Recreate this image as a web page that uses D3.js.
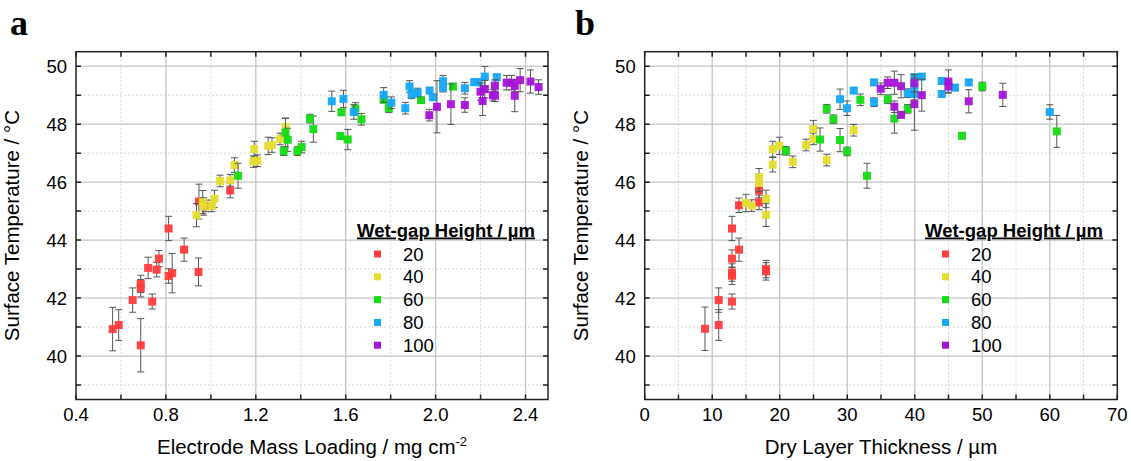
<!DOCTYPE html>
<html>
<head>
<meta charset="utf-8">
<script src="https://cdn.jsdelivr.net/npm/d3@7"></script>
<style>
  body { margin: 0; background: #fff; }
  text { font-family: "Liberation Sans", Arial, sans-serif; fill: #000; }
</style>
</head>
<body>
<div id="chart"></div>
<script>
// legend categories
const wetGaps = ["20", "40", "60", "80", "100"]
const colors = ["#ff3b3b", "#e6dd2e", "#12dc12", "#14a8f5", "#a414d6"]

// panel a: [mass loading mg/cm2, temperature °C, error]
const red20A = [[0.563,40.93,0.75],[0.59,41.07,0.53],[0.688,40.37,0.92],[0.652,41.93,0.42],[0.688,42.34,0.3],[0.688,42.49,0.3],[0.739,41.88,0.26],[0.721,43.04,0.37],[0.759,42.98,0.25],[0.769,43.36,0.28],[0.812,44.4,0.42],[0.812,42.76,0.25],[0.828,42.86,0.68],[0.881,43.67,0.4],[0.945,42.9,0.48],[0.947,45.33,0.6],[0.978,45.18,0.2],[1.086,45.71,0.25]]
const yellow40A = [[0.936,44.86,0.4],[0.964,45.31,0.4],[0.968,45.16,0.3],[1.004,45.18,0.2],[1.016,45.42,0.3],[1.041,46.04,0.2],[1.086,46.06,0.2],[1.105,46.59,0.25],[1.193,47.14,0.27],[1.19,46.71,0.2],[1.207,46.74,0.2],[1.255,47.25,0.3],[1.272,47.28,0.25],[1.308,47.49,0.2],[1.332,47.9,0.3]]
const green60A = [[1.121,46.22,0.43],[1.324,47.07,0.15],[1.332,47.71,0.5],[1.342,47.46,0.4],[1.385,47.07,0.15],[1.404,47.21,0.2],[1.441,48.19,0.15],[1.456,47.83,0.45],[1.576,47.59,0.1],[1.609,47.47,0.35],[1.581,48.41,0.1],[1.643,48.54,0.2],[1.67,48.17,0.2],[1.769,48.84,0.1],[1.792,48.55,0.15],[1.935,48.83,0.1],[2.077,49.3,0.1]]
const blue80A = [[1.538,48.79,0.35],[1.59,48.87,0.3],[1.636,48.42,0.25],[1.769,49.01,0.25],[1.803,48.74,0.2],[1.865,48.55,0.2],[1.884,49.3,0.2],[1.893,49.03,0.15],[1.92,49.09,0.15],[1.973,49.16,0.1],[1.988,48.93,0.1],[2.033,49.48,0.2],[2.033,49.26,0.15],[2.13,49.24,0.2],[2.172,49.45,0.1],[2.192,49.45,0.1],[2.219,49.64,0.35],[2.272,49.62,0.1]]
const purple100A = [[1.972,48.31,0.2],[2.006,48.6,0.9],[2.068,48.69,0.7],[2.13,48.66,0.25],[2.2,49.12,0.3],[2.209,48.8,0.5],[2.219,49.21,0.3],[2.255,49.0,0.2],[2.264,49.33,0.2],[2.264,48.98,0.2],[2.316,49.43,0.25],[2.338,49.43,0.25],[2.352,49.32,0.2],[2.352,48.98,0.55],[2.376,49.52,0.4],[2.422,49.47,0.4],[2.458,49.28,0.25]]

// panel b: [dry layer thickness µm, temperature °C, error]
const red20B = [[8.93,40.94,0.75],[10.96,41.07,0.53],[10.96,41.93,0.42],[12.93,41.88,0.26],[12.93,42.77,0.3],[12.93,42.88,0.3],[12.93,43.36,0.3],[12.93,44.4,0.42],[13.97,43.67,0.4],[13.97,45.2,0.25],[16.93,45.3,0.25],[16.93,45.71,0.25],[17.97,42.92,0.3],[17.97,43.0,0.3]]
const yellow40B = [[15.0,45.28,0.3],[15.85,45.19,0.2],[16.93,46.17,0.3],[16.93,45.97,0.3],[17.97,45.42,0.3],[17.97,44.87,0.4],[18.96,47.14,0.27],[18.96,46.6,0.25],[19.94,47.25,0.3],[21.93,46.7,0.2],[23.9,47.28,0.2],[24.98,47.83,0.3],[24.98,47.49,0.2],[26.96,46.76,0.2],[30.96,47.79,0.2]]
const green60B = [[20.93,47.08,0.15],[25.97,47.47,0.4],[26.96,48.53,0.15],[27.95,48.17,0.15],[28.93,47.45,0.4],[29.97,47.06,0.15],[31.94,48.84,0.2],[32.93,46.22,0.43],[36.0,48.86,0.15],[36.98,48.19,0.5],[38.96,48.53,0.15],[47.0,47.6,0.1],[50.0,49.3,0.15],[61.04,47.75,0.55]]
const blue80B = [[28.93,48.86,0.35],[29.97,48.55,0.25],[30.96,49.16,0.1],[33.97,49.44,0.1],[33.97,48.76,0.15],[38.96,49.07,0.15],[39.94,49.62,0.1],[41.04,49.64,0.1],[39.94,49.32,0.2],[39.94,49.04,0.2],[44.0,49.49,0.1],[44.0,49.04,0.1],[45.97,49.26,0.1],[48.0,49.44,0.1],[60.0,48.42,0.25]]
const purple100B = [[34.96,49.22,0.2],[36.0,49.43,0.2],[36.98,49.43,0.4],[37.97,49.31,0.4],[36.98,48.6,0.2],[37.97,48.32,0.1],[39.94,48.69,0.9],[41.04,49.0,0.55],[39.94,49.41,0.3],[44.98,49.47,0.4],[44.98,49.3,0.2],[48.0,48.79,0.4],[53.04,49.01,0.4]]

// ticks
const yMajor = [40, 42, 44, 46, 48, 50]
const yMinor = [39, 41, 43, 45, 47, 49]
const xMajorA = [0.4, 0.8, 1.2, 1.6, 2.0, 2.4]
const xMinorA = [0.6, 1.0, 1.4, 1.8, 2.2]
const xMajorB = [0, 10, 20, 30, 40, 50, 60, 70]
const xMinorB = [5, 15, 25, 35, 45, 55, 65]

const svg = d3.select("#chart").append("svg")
    .attr("width", 1131)
    .attr("height", 461)

function panel(opts) {
    const x = d3.scaleLinear().domain(opts.xDomain).range([opts.left, opts.right])
    const y = d3.scaleLinear().domain([38.5, 50.5]).range([399.5, 51.7])
    const g = svg.append("g")
    const top = y.range()[1], bottom = y.range()[0]

    // grid
    g.selectAll(".gxm").data(opts.xMinor).enter().append("line")
        .attr("x1", d => x(d)).attr("x2", d => x(d)).attr("y1", top).attr("y2", bottom)
        .attr("stroke", "#d6d6d6").attr("stroke-dasharray", "2,2").attr("stroke-width", 1)
    g.selectAll(".gym").data(yMinor).enter().append("line")
        .attr("y1", d => y(d)).attr("y2", d => y(d)).attr("x1", opts.left).attr("x2", opts.right)
        .attr("stroke", "#d6d6d6").attr("stroke-dasharray", "2,2").attr("stroke-width", 1)
    g.selectAll(".gx").data(opts.xMajor.filter(d => x(d) > opts.left + 1 && x(d) < opts.right - 1)).enter().append("line")
        .attr("x1", d => x(d)).attr("x2", d => x(d)).attr("y1", top).attr("y2", bottom)
        .attr("stroke", "#c4c4c4").attr("stroke-width", 1.3)
    g.selectAll(".gy").data(yMajor).enter().append("line")
        .attr("y1", d => y(d)).attr("y2", d => y(d)).attr("x1", opts.left).attr("x2", opts.right)
        .attr("stroke", "#c4c4c4").attr("stroke-width", 1.3)

    // legend
    const lg = g.append("g")
    lg.append("text")
        .attr("x", opts.legX).attr("y", 236.5)
        .attr("font-size", 18).attr("font-weight", "bold")
        .attr("text-decoration", "underline")
        .attr("textLength", 178).attr("lengthAdjust", "spacingAndGlyphs")
        .text("Wet-gap Height / µm")
    wetGaps.forEach((w, i) => {
        const cy = 254 + i * 22.8
        lg.append("rect").attr("x", opts.legX + 17).attr("y", cy - 3.5)
            .attr("width", 7).attr("height", 7).attr("fill", colors[i])
        lg.append("text").attr("x", opts.legX + 46).attr("y", cy + 6.5)
            .attr("font-size", 18.5).text(w)
    })

    // series
    opts.series.forEach((s, i) => {
        const sg = g.append("g")
        const eb = sg.selectAll(".eb").data(s).enter().append("g")
            .attr("stroke", "#555").attr("stroke-width", 1)
        eb.append("line").attr("x1", d => x(d[0])).attr("x2", d => x(d[0]))
            .attr("y1", d => y(d[1] - d[2])).attr("y2", d => y(d[1] + d[2]))
        eb.append("line").attr("x1", d => x(d[0]) - 3.5).attr("x2", d => x(d[0]) + 3.5)
            .attr("y1", d => y(d[1] - d[2])).attr("y2", d => y(d[1] - d[2]))
        eb.append("line").attr("x1", d => x(d[0]) - 3.5).attr("x2", d => x(d[0]) + 3.5)
            .attr("y1", d => y(d[1] + d[2])).attr("y2", d => y(d[1] + d[2]))
        sg.selectAll("rect").data(s).enter().append("rect")
            .attr("x", d => x(d[0]) - 4).attr("y", d => y(d[1]) - 4)
            .attr("width", 8).attr("height", 8)
            .attr("fill", colors[i]).attr("fill-opacity", 0.95)
    })

    // frame and ticks (inward)
    g.append("rect").attr("x", opts.left).attr("y", top)
        .attr("width", opts.right - opts.left).attr("height", bottom - top)
        .attr("fill", "none").attr("stroke", "#222").attr("stroke-width", 1.5)
    const xt = opts.xMajor.concat(opts.xMinor)
    const yt = yMajor.concat(yMinor)
    g.selectAll(".tx").data(xt).enter().append("path")
        .attr("d", d => `M${x(d)},${bottom}v-5M${x(d)},${top}v5`)
        .attr("stroke", "#222").attr("stroke-width", 1.5)
    g.selectAll(".ty").data(yt).enter().append("path")
        .attr("d", d => `M${opts.left},${y(d)}h5M${opts.right},${y(d)}h-5`)
        .attr("stroke", "#222").attr("stroke-width", 1.5)

    // tick labels
    g.selectAll(".lx").data(opts.xMajor).enter().append("text")
        .attr("x", d => x(d)).attr("y", 421)
        .attr("text-anchor", "middle").attr("font-size", 18.5)
        .text(opts.fmt)
    g.selectAll(".ly").data(yMajor).enter().append("text")
        .attr("x", opts.left - 9).attr("y", d => y(d) + 6.5)
        .attr("text-anchor", "end").attr("font-size", 18.5)
        .text(d => d)

    // axis titles
    const xt2 = g.append("text")
        .attr("x", (opts.left + opts.right) / 2).attr("y", 454)
        .attr("text-anchor", "middle").attr("font-size", 20.5)
    opts.xTitle(xt2)
    g.append("text")
        .attr("transform", `translate(${opts.yTitleX},${(top + bottom) / 2}) rotate(-90)`)
        .attr("text-anchor", "middle").attr("font-size", 20.5)
        .text("Surface Temperature / °C")

    // panel letter
    g.append("text").attr("x", opts.letterX).attr("y", 35)
        .style("font-family", "'Liberation Serif', 'DejaVu Serif', serif")
        .attr("font-weight", "bold").attr("font-size", 36)
        .text(opts.letter)
}

panel({
    xDomain: [0.4, 2.5], left: 76, right: 548,
    xMajor: xMajorA, xMinor: xMinorA, fmt: d => d3.format(".1f")(d),
    series: [red20A, yellow40A, green60A, blue80A, purple100A],
    legX: 357, yTitleX: 19, letterX: 10, letter: "a",
    xTitle: t => {
        t.append("tspan").text("Electrode Mass Loading / mg cm")
        t.append("tspan").attr("font-size", 13).attr("dy", -8).text("-2")
    }
})

panel({
    xDomain: [0, 70], left: 644.7, right: 1117.3,
    xMajor: xMajorB, xMinor: xMinorB, fmt: d => d,
    series: [red20B, yellow40B, green60B, blue80B, purple100B],
    legX: 925, yTitleX: 588, letterX: 575, letter: "b",
    xTitle: t => t.text("Dry Layer Thickness / µm")
})
</script>
</body>
</html>
